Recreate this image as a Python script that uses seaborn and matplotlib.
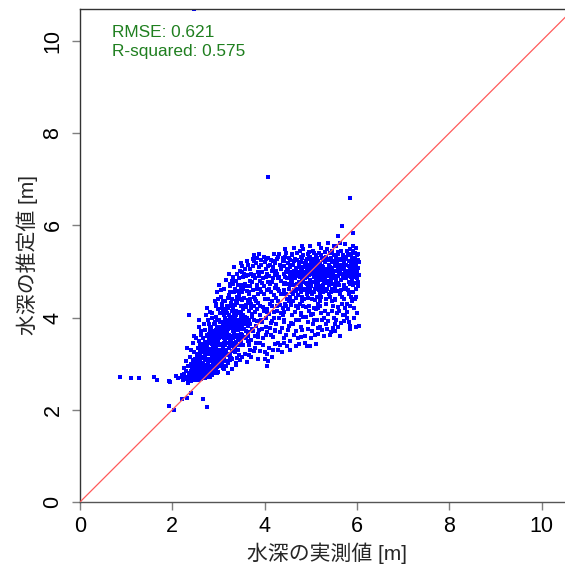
import matplotlib
matplotlib.use("Agg")
import matplotlib.pyplot as plt
import seaborn as sns
import pandas as pd

# ---- data (actual depth [m], estimated depth [m]) ----
tail_and_outliers = [(0.87,2.70),(1.10,2.69),(1.28,2.69),(1.60,2.71),(1.66,2.65),(1.92,2.62),(1.96,2.60),(1.92,2.08),(2.03,2.00),(2.20,2.23),(2.32,2.26),(2.40,2.37),(2.67,2.24),(2.76,2.06),(4.07,7.04),(5.85,6.60),(5.67,5.99),(5.92,5.84),(5.60,5.77),(2.12,2.68),(2.07,2.74),(2.47,10.69)]
strip_a = [(2.20,2.70),(2.23,2.64),(2.26,2.78),(2.28,2.68),(2.30,2.85),(2.31,2.66),(2.33,2.72),(2.34,2.95),(2.36,2.62),(2.37,2.80),(2.25,2.90),(2.29,3.05),(2.35,2.58),(2.22,2.75),(2.32,3.35)]
strip_b = [(2.38,2.66),(2.39,2.74),(2.40,2.85),(2.41,2.62),(2.42,2.95),(2.43,2.70),(2.44,2.80),(2.45,3.02),(2.46,2.68),(2.47,2.88),(2.48,2.75),(2.49,3.10),(2.50,2.64),(2.51,2.92),(2.52,2.78),(2.53,3.22),(2.54,2.70),(2.55,2.98),(2.56,2.84),(2.39,3.15),(2.41,3.30),(2.43,2.90),(2.45,3.45),(2.47,2.72),(2.49,3.00),(2.51,3.55),(2.53,2.86),(2.55,3.35),(2.40,2.99),(2.44,3.08),(2.48,3.25),(2.52,3.05),(2.56,2.67),(2.42,2.82),(2.46,3.60),(2.50,2.96),(2.54,3.12),(2.37,4.05),(2.57,3.80),(2.55,2.76)]
strip_c = [(2.56,2.70),(2.57,2.88),(2.58,3.05),(2.59,2.75),(2.60,3.20),(2.61,2.66),(2.62,2.95),(2.63,3.12),(2.64,2.80),(2.65,3.35),(2.66,2.72),(2.67,3.02),(2.68,2.86),(2.69,3.25),(2.70,2.68),(2.71,3.48),(2.72,2.92),(2.73,3.10),(2.74,2.78),(2.75,3.60),(2.56,3.15),(2.58,2.82),(2.60,3.40),(2.62,2.72),(2.64,3.00),(2.66,3.55),(2.68,2.98),(2.70,3.18),(2.72,2.83),(2.74,3.30),(2.57,2.65),(2.59,3.28),(2.61,2.90),(2.63,3.70),(2.65,2.84),(2.67,3.42),(2.69,2.76),(2.71,3.08),(2.73,2.70),(2.75,3.22),(2.57,3.50),(2.61,3.08),(2.65,2.96),(2.69,3.85),(2.73,3.38),(2.59,2.99),(2.63,2.67),(2.67,3.15),(2.71,2.80),(2.75,2.90),(2.58,3.95),(2.62,3.62),(2.66,3.26),(2.70,3.72),(2.74,4.05)]
strip_d = [(2.75,2.75),(2.76,2.98),(2.77,3.20),(2.78,3.45),(2.79,2.85),(2.80,3.65),(2.81,3.05),(2.82,2.70),(2.83,3.32),(2.84,3.80),(2.85,2.92),(2.86,3.55),(2.87,3.12),(2.88,2.80),(2.89,3.70),(2.90,3.00),(2.91,3.40),(2.92,3.90),(2.93,3.15),(2.94,2.88),(2.75,3.38),(2.76,3.62),(2.77,2.82),(2.78,3.10),(2.79,3.52),(2.80,2.95),(2.81,3.78),(2.82,3.25),(2.83,2.88),(2.84,3.48),(2.85,3.18),(2.86,4.10),(2.87,2.76),(2.88,3.35),(2.89,3.02),(2.90,3.85),(2.91,2.94),(2.92,3.58),(2.93,3.28),(2.94,3.72),(2.76,4.20),(2.78,3.95),(2.80,3.30),(2.82,3.68),(2.84,3.05),(2.86,2.90),(2.88,3.62),(2.90,3.22),(2.92,3.08),(2.94,4.30),(2.77,3.00),(2.79,3.85),(2.81,2.78),(2.83,3.58),(2.85,4.00),(2.87,3.42),(2.89,2.85),(2.91,3.65),(2.93,4.36),(2.75,3.08),(2.82,4.12),(2.86,3.28),(2.90,3.50),(2.92,2.98),(2.94,3.40)]
strip_e = [(2.93,3.05),(2.94,3.35),(2.95,3.68),(2.96,2.92),(2.97,3.95),(2.98,3.20),(2.99,3.52),(3.00,2.82),(3.01,3.80),(3.02,3.12),(3.03,4.10),(3.04,3.42),(3.05,3.00),(3.06,3.72),(3.07,3.28),(3.08,4.30),(3.09,3.58),(3.10,2.90),(3.11,3.88),(3.12,3.18),(2.93,3.60),(2.94,4.02),(2.95,3.15),(2.96,3.48),(2.97,2.80),(2.98,3.75),(2.99,3.30),(3.00,4.18),(3.01,3.02),(3.02,3.62),(3.03,3.40),(3.04,3.90),(3.05,3.22),(3.06,4.45),(3.07,3.05),(3.08,3.65),(3.09,3.85),(3.10,3.38),(3.11,4.05),(3.12,3.55),(2.93,3.85),(2.95,4.25),(2.97,3.40),(2.99,3.10),(3.01,3.55),(3.03,2.95),(3.05,4.60),(3.07,3.78),(3.09,3.15),(3.11,3.45),(2.94,3.00),(2.96,3.78),(2.98,4.40),(3.00,3.58),(3.02,3.95),(3.04,3.15),(3.06,3.30),(3.08,2.98),(3.10,4.15),(3.12,3.70),(2.95,3.52),(2.98,3.10),(3.01,4.70),(3.04,3.68),(3.07,4.20),(3.10,3.62),(2.97,4.55),(3.03,3.78),(3.09,4.35),(3.12,2.88)]
strip_f = [(3.12,3.25),(3.13,3.65),(3.14,4.00),(3.15,3.40),(3.16,2.95),(3.17,3.85),(3.18,3.55),(3.19,4.25),(3.20,3.18),(3.21,3.75),(3.22,4.48),(3.23,3.35),(3.24,3.98),(3.25,3.08),(3.26,4.72),(3.27,3.60),(3.28,3.90),(3.29,3.28),(3.30,4.15),(3.31,3.70),(3.12,3.90),(3.13,3.12),(3.14,3.50),(3.15,4.35),(3.16,3.72),(3.17,3.28),(3.18,4.10),(3.19,3.45),(3.20,3.88),(3.21,3.02),(3.22,3.62),(3.23,4.05),(3.24,3.42),(3.25,3.82),(3.26,3.20),(3.27,4.32),(3.28,3.50),(3.29,3.78),(3.30,2.88),(3.31,4.55),(3.12,4.62),(3.14,3.78),(3.16,4.18),(3.18,3.22),(3.20,4.42),(3.22,3.80),(3.24,3.15),(3.26,3.95),(3.28,4.25),(3.30,3.58),(3.13,4.05),(3.15,3.58),(3.17,4.82),(3.19,3.70),(3.21,4.20),(3.23,3.55),(3.25,4.55),(3.27,3.88),(3.29,4.02),(3.31,3.38),(3.14,3.30),(3.18,3.95),(3.22,4.95),(3.26,3.52),(3.30,4.80),(3.16,3.05),(3.20,3.62),(3.24,4.68),(3.28,3.12),(3.21,2.80)]
strip_g = [(3.30,3.85),(3.31,3.45),(3.32,4.20),(3.33,3.68),(3.34,4.55),(3.35,3.25),(3.36,3.95),(3.37,4.35),(3.38,3.58),(3.39,4.80),(3.40,3.80),(3.41,3.12),(3.42,4.10),(3.43,3.72),(3.44,4.48),(3.45,3.40),(3.46,3.92),(3.47,5.02),(3.48,3.65),(3.49,4.25),(3.30,4.40),(3.31,3.92),(3.32,3.55),(3.33,4.05),(3.34,3.82),(3.35,4.62),(3.36,3.38),(3.37,3.78),(3.38,4.15),(3.39,3.48),(3.40,4.32),(3.41,3.88),(3.42,3.62),(3.43,4.70),(3.44,3.95),(3.45,3.18),(3.46,4.40),(3.47,3.75),(3.48,4.02),(3.49,3.50),(3.30,3.10),(3.32,4.88),(3.34,3.62),(3.36,4.28),(3.38,3.88),(3.40,4.95),(3.42,3.30),(3.44,4.12),(3.46,3.58),(3.48,4.65),(3.31,4.72),(3.33,3.35),(3.35,3.98),(3.37,2.98),(3.39,4.05),(3.41,4.45),(3.43,3.52),(3.45,4.85),(3.47,3.08),(3.49,3.85),(3.34,5.10),(3.38,3.02),(3.42,4.58),(3.46,3.82),(3.48,5.18)]
strip_h = [(3.49,4.10),(3.50,3.62),(3.51,4.55),(3.52,3.88),(3.53,4.88),(3.54,3.40),(3.55,4.25),(3.56,3.75),(3.57,5.05),(3.58,4.02),(3.59,3.55),(3.60,4.68),(3.61,3.90),(3.62,3.04),(3.63,4.38),(3.64,3.68),(3.65,5.15),(3.66,4.15),(3.67,3.42),(3.68,4.80),(3.49,3.48),(3.50,4.38),(3.51,3.80),(3.52,4.98),(3.53,4.05),(3.54,4.62),(3.55,3.58),(3.56,4.42),(3.57,3.22),(3.58,4.72),(3.59,4.22),(3.60,3.70),(3.61,5.22),(3.62,4.00),(3.63,3.82),(3.64,4.92),(3.65,3.60),(3.66,4.50),(3.67,3.95),(3.68,3.30),(3.50,5.12),(3.52,3.15),(3.54,4.18),(3.56,4.95),(3.58,3.85),(3.60,4.28),(3.62,4.58),(3.64,4.32),(3.66,3.18),(3.68,4.40),(3.51,4.70),(3.55,3.95),(3.59,4.90),(3.63,3.50),(3.67,4.68)]
strip_i = [(3.67,4.55),(3.68,3.85),(3.69,5.05),(3.70,4.20),(3.71,3.52),(3.72,4.78),(3.73,4.02),(3.74,5.28),(3.75,3.70),(3.76,4.45),(3.77,3.28),(3.78,4.92),(3.79,4.12),(3.80,3.60),(3.81,5.18),(3.82,4.35),(3.83,3.92),(3.84,4.70),(3.85,3.10),(3.86,4.98),(3.67,3.40),(3.69,4.38),(3.71,4.95),(3.73,3.75),(3.75,5.12),(3.77,4.25),(3.79,4.85),(3.81,3.82),(3.83,5.30),(3.85,4.52),(3.68,4.68),(3.70,3.15),(3.72,4.08),(3.74,4.60),(3.76,3.95),(3.78,5.22),(3.80,4.40),(3.82,3.45),(3.84,4.18),(3.86,3.65),(3.71,4.30),(3.75,4.90),(3.79,3.35),(3.83,4.62),(3.77,5.35)]
strip_j = [(3.86,4.32),(3.87,5.10),(3.88,3.72),(3.89,4.80),(3.90,4.05),(3.91,3.28),(3.92,5.25),(3.93,4.55),(3.94,3.90),(3.95,4.98),(3.96,4.22),(3.97,3.55),(3.98,5.32),(3.99,4.68),(4.00,3.10),(4.01,4.40),(4.02,5.05),(4.03,3.80),(4.04,4.88),(4.05,4.12),(3.86,3.58),(3.88,5.38),(3.90,4.62),(3.92,3.95),(3.94,4.75),(3.96,3.40),(3.98,4.50),(4.00,5.20),(4.02,4.00),(4.04,3.62),(3.87,4.90),(3.89,3.45),(3.91,4.25),(3.93,5.15),(3.95,3.75),(3.97,4.85),(3.99,4.15),(4.01,3.25),(4.03,5.28),(4.05,4.60),(4.06,2.95)]
strip_k = [(4.05,4.95),(4.06,3.68),(4.07,4.40),(4.08,5.30),(4.09,4.08),(4.10,3.35),(4.11,4.72),(4.12,5.15),(4.13,3.88),(4.14,4.55),(4.15,3.15),(4.16,5.02),(4.17,4.25),(4.18,3.58),(4.19,4.85),(4.20,5.38),(4.21,4.00),(4.22,3.42),(4.23,4.65),(4.05,3.20),(4.07,5.12),(4.09,4.62),(4.11,3.78),(4.13,5.25),(4.15,4.35),(4.17,3.92),(4.19,5.10),(4.21,4.48),(4.23,3.70),(4.06,4.18),(4.08,3.05),(4.10,4.90),(4.12,4.30),(4.14,3.62),(4.16,4.78),(4.18,5.22),(4.20,4.12),(4.22,4.92),(4.08,4.78),(4.19,3.30)]
strip_l = [(4.23,5.18),(4.24,4.42),(4.25,3.85),(4.26,4.95),(4.27,4.15),(4.28,3.45),(4.29,5.32),(4.30,4.62),(4.31,3.98),(4.32,5.37),(4.33,4.28),(4.34,3.68),(4.35,5.05),(4.36,4.80),(4.37,3.25),(4.38,4.52),(4.39,5.22),(4.40,4.05),(4.41,4.72),(4.42,3.55),(4.23,3.72),(4.25,4.70),(4.27,5.28),(4.29,4.35),(4.31,4.88),(4.33,3.40),(4.35,4.50),(4.37,5.12),(4.39,4.20),(4.41,3.90),(4.24,5.00),(4.26,4.25),(4.28,4.85),(4.30,3.30),(4.32,4.58),(4.34,5.15),(4.36,4.10),(4.38,3.78),(4.40,5.30),(4.42,4.95)]
strip_m = [(4.41,4.60),(4.42,5.22),(4.43,3.95),(4.44,4.88),(4.45,4.30),(4.46,5.40),(4.47,3.62),(4.48,3.38),(4.49,5.05),(4.50,4.72),(4.51,4.18),(4.52,5.30),(4.53,3.82),(4.54,4.95),(4.55,4.45),(4.56,3.50),(4.57,5.15),(4.58,4.82),(4.59,4.05),(4.60,5.35),(4.41,3.45),(4.43,5.12),(4.45,4.75),(4.47,4.98),(4.49,4.40),(4.51,5.18),(4.53,4.62),(4.55,3.30),(4.57,4.90),(4.59,4.55),(4.42,4.12),(4.44,5.32),(4.46,4.52),(4.48,4.85),(4.50,3.72),(4.52,4.35),(4.54,5.10),(4.56,4.70),(4.58,3.88),(4.60,4.98),(4.45,5.48),(4.50,5.00),(4.55,5.25),(4.47,4.25),(4.58,4.28)]
strip_n = [(4.60,4.80),(4.61,5.15),(4.62,4.35),(4.63,5.02),(4.64,3.62),(4.65,4.92),(4.66,5.28),(4.67,4.58),(4.68,3.95),(4.69,5.08),(4.70,4.72),(4.71,5.40),(4.72,4.20),(4.73,4.95),(4.74,3.42),(4.75,5.18),(4.76,4.65),(4.77,4.88),(4.78,5.32),(4.79,4.05),(4.60,5.38),(4.61,4.50),(4.62,3.85),(4.63,4.70),(4.64,5.22),(4.65,4.12),(4.66,4.85),(4.67,5.05),(4.68,4.42),(4.69,3.70),(4.70,5.25),(4.71,4.62),(4.72,4.98),(4.73,3.55),(4.74,5.12),(4.75,4.78),(4.76,4.30),(4.77,5.45),(4.78,4.55),(4.79,5.00),(4.61,4.95),(4.64,4.60),(4.67,3.38),(4.70,4.90),(4.73,4.48),(4.76,5.10),(4.79,3.80),(4.63,5.50),(4.69,4.25),(4.75,3.95)]
strip_o = [(4.78,4.92),(4.79,5.20),(4.80,4.45),(4.81,5.05),(4.82,3.72),(4.83,4.82),(4.84,5.35),(4.85,4.60),(4.86,4.98),(4.87,3.45),(4.88,5.12),(4.89,4.75),(4.90,4.22),(4.91,5.28),(4.92,4.88),(4.93,3.90),(4.94,5.02),(4.95,4.55),(4.96,5.42),(4.97,4.70),(4.78,4.10),(4.79,4.68),(4.80,5.30),(4.81,4.35),(4.82,4.95),(4.83,5.48),(4.84,4.02),(4.85,5.10),(4.86,4.40),(4.87,4.85),(4.88,3.60),(4.89,5.22),(4.90,4.95),(4.91,4.50),(4.92,3.38),(4.93,5.15),(4.94,4.65),(4.95,5.00),(4.96,4.15),(4.97,5.30),(4.79,3.58),(4.81,4.80),(4.83,4.25),(4.85,4.90),(4.87,5.18),(4.89,4.02),(4.91,4.72),(4.93,4.42),(4.95,3.75),(4.97,4.92),(4.82,5.55),(4.88,4.62),(4.94,5.38),(4.80,4.78),(4.92,5.05)]
strip_p = [(4.97,5.08),(4.98,4.60),(4.99,3.38),(5.00,4.95),(5.01,5.25),(5.02,4.40),(5.03,5.02),(5.04,3.85),(5.05,4.78),(5.06,5.40),(5.07,4.55),(5.08,4.92),(5.09,3.62),(5.10,5.15),(5.11,4.70),(5.12,4.18),(5.13,5.30),(5.14,4.85),(5.15,5.00),(5.16,4.30),(4.97,4.25),(4.98,5.32),(4.99,4.82),(5.00,3.55),(5.01,4.68),(5.02,5.12),(5.03,4.50),(5.04,5.45),(5.05,4.08),(5.06,4.88),(5.07,5.20),(5.08,3.95),(5.09,4.62),(5.10,4.98),(5.11,3.42),(5.12,5.35),(5.13,4.45),(5.14,5.08),(5.15,3.78),(5.16,4.95),(4.98,4.72),(5.00,5.18),(5.02,3.70),(5.04,4.98),(5.06,4.20),(5.08,5.28),(5.10,4.38),(5.12,4.80),(5.14,3.95),(5.16,5.15),(4.99,5.55),(5.05,5.05),(5.11,4.90),(5.01,4.05),(5.13,4.65)]
strip_q = [(5.15,4.90),(5.16,5.22),(5.17,5.59),(5.18,4.60),(5.19,5.05),(5.20,3.80),(5.21,4.82),(5.22,5.35),(5.23,4.45),(5.24,5.12),(5.25,3.95),(5.26,4.98),(5.27,4.70),(5.28,5.28),(5.29,3.60),(5.30,4.88),(5.31,5.42),(5.32,4.30),(5.33,5.02),(5.34,4.75),(5.15,4.20),(5.16,4.78),(5.17,5.00),(5.18,5.40),(5.19,4.35),(5.20,4.95),(5.21,5.18),(5.22,4.10),(5.23,4.85),(5.24,3.72),(5.25,5.30),(5.26,4.55),(5.27,5.10),(5.28,4.00),(5.29,4.92),(5.30,5.20),(5.31,4.62),(5.32,5.05),(5.33,3.85),(5.34,5.32),(5.16,3.65),(5.18,5.12),(5.20,4.52),(5.22,4.98),(5.24,4.65),(5.26,5.25),(5.28,4.80),(5.30,4.15),(5.32,4.95),(5.34,4.40),(5.17,4.68),(5.23,5.50),(5.29,5.05),(5.21,4.25),(5.33,4.58)]
strip_r = [(5.34,5.05),(5.35,4.62),(5.36,5.28),(5.37,4.90),(5.38,3.92),(5.39,5.15),(5.40,4.78),(5.41,5.40),(5.42,4.45),(5.43,4.98),(5.44,3.68),(5.45,5.22),(5.46,4.85),(5.47,5.08),(5.48,4.25),(5.49,4.95),(5.50,5.35),(5.51,4.58),(5.52,3.85),(5.53,5.12),(5.34,4.30),(5.35,5.48),(5.36,4.80),(5.37,4.08),(5.38,5.00),(5.39,4.70),(5.40,5.25),(5.41,3.62),(5.42,4.92),(5.43,5.30),(5.44,4.55),(5.45,4.88),(5.46,4.15),(5.47,5.45),(5.48,4.72),(5.49,5.20),(5.50,3.98),(5.51,5.02),(5.52,4.68),(5.53,4.40),(5.35,3.75),(5.39,4.50),(5.43,4.82),(5.47,4.62),(5.51,5.55),(5.37,5.62),(5.41,5.10),(5.45,4.35),(5.49,3.78),(5.53,4.90)]
strip_s = [(5.52,5.02),(5.53,4.65),(5.54,5.30),(5.55,4.88),(5.56,4.10),(5.57,5.18),(5.58,4.75),(5.59,5.42),(5.60,3.80),(5.61,4.95),(5.62,5.10),(5.63,4.50),(5.64,3.59),(5.65,5.25),(5.66,4.82),(5.67,5.05),(5.68,4.30),(5.69,4.92),(5.70,5.35),(5.71,4.62),(5.52,4.38),(5.53,5.22),(5.54,4.80),(5.55,3.95),(5.56,5.00),(5.57,4.58),(5.58,5.38),(5.59,4.90),(5.60,4.22),(5.61,5.28),(5.62,4.70),(5.63,5.15),(5.64,4.98),(5.65,3.88),(5.66,5.45),(5.67,4.45),(5.68,5.12),(5.69,4.05),(5.70,4.85),(5.71,5.20),(5.53,3.70),(5.56,4.72),(5.59,5.08),(5.62,4.15),(5.65,4.60),(5.68,4.95),(5.71,3.92),(5.55,5.55),(5.63,5.62),(5.69,5.32)]
strip_t = [(5.71,5.08),(5.72,4.70),(5.73,5.32),(5.74,4.92),(5.75,4.20),(5.76,5.15),(5.77,4.85),(5.78,5.45),(5.79,3.98),(5.80,5.00),(5.81,4.60),(5.82,5.22),(5.83,4.78),(5.84,3.75),(5.85,5.10),(5.86,4.95),(5.87,5.38),(5.88,4.45),(5.89,5.05),(5.90,4.82),(5.71,4.40),(5.72,5.25),(5.73,4.88),(5.74,4.05),(5.75,5.02),(5.76,4.65),(5.77,5.28),(5.78,4.98),(5.79,4.30),(5.80,5.35),(5.81,4.90),(5.82,3.90),(5.83,5.12),(5.84,4.72),(5.85,5.48),(5.86,4.25),(5.87,4.88),(5.88,5.18),(5.89,4.55),(5.90,5.30),(5.74,5.60),(5.78,4.12),(5.82,4.50),(5.86,3.82),(5.90,4.98)]
strip_u = [(5.89,5.05),(5.90,4.80),(5.91,5.28),(5.92,4.55),(5.93,5.12),(5.94,4.95),(5.95,5.40),(5.96,4.40),(5.97,5.00),(5.98,3.80),(5.99,5.22),(6.00,4.85),(6.01,5.35),(6.02,4.68),(6.03,5.08),(6.04,4.92),(5.89,4.35),(5.90,5.18),(5.91,4.70),(5.92,5.45),(5.93,4.88),(5.94,4.20),(5.95,5.02),(5.96,5.30),(5.97,4.62),(5.98,5.15),(5.99,4.45),(6.00,5.00),(6.01,4.10),(6.02,5.25),(6.03,4.78),(6.04,3.82),(5.91,5.55),(5.95,4.75),(5.99,5.50),(6.03,5.38),(5.93,4.00),(5.97,5.10),(6.01,4.95),(6.04,5.20)]

x_ticks = [0, 2, 4, 6, 8, 10]
y_ticks = [0, 2, 4, 6, 8, 10]
x_label = "水深の実測値 [m]"
y_label = "水深の推定値 [m]"
stats_text = ["RMSE: 0.621", "R-squared: 0.575"]
axis_limit = 10.7

all_points = (tail_and_outliers + strip_a + strip_b + strip_c + strip_d + strip_e + strip_f
              + strip_g + strip_h + strip_i + strip_j + strip_k + strip_l + strip_m + strip_n
              + strip_o + strip_p + strip_q + strip_r + strip_s + strip_t + strip_u)
df = pd.DataFrame(all_points, columns=["actual", "estimated"])

sns.set_style("white")
plt.rcParams["font.family"] = ["Liberation Sans", "Noto Sans CJK JP", "DejaVu Sans"]

fig = plt.figure(figsize=(5.65, 5.65), dpi=100)
ax = fig.add_axes([80 / 565, 63 / 565, 493.9 / 565, 493.4 / 565])

sns.scatterplot(data=df, x="actual", y="estimated", ax=ax, color="blue",
                marker="s", s=6.5, linewidth=0, legend=False, zorder=2)
ax.axline((0, 0), slope=1, color="#ff5a5a", lw=0.9, zorder=3)

ax.set_xlim(0, axis_limit)
ax.set_ylim(0, axis_limit)
ax.set_xticks(x_ticks)
ax.set_yticks(y_ticks)

for side in ["left", "top", "right"]:
    ax.spines[side].set_color("#333333")
    ax.spines[side].set_linewidth(1.0)
ax.spines["bottom"].set_color("#555555")
ax.spines["bottom"].set_linewidth(1.0)

ax.tick_params(axis="both", which="both", direction="out", length=5.8, width=1,
               color="#7f7f7f", labelsize=15.5, labelcolor="black")
ax.tick_params(axis="x", pad=4, bottom=True)
ax.tick_params(axis="y", pad=6, left=True)
for lab in ax.get_yticklabels():
    lab.set_rotation(90)
    lab.set_va("center")

ax.set_xlabel(x_label, fontsize=15, labelpad=4)
ax.set_ylabel(y_label, fontsize=15, labelpad=3)

ax.text(0.69, 10.08, stats_text[0], color="#1f7f1f", fontsize=12.4, va="baseline", ha="left")
ax.text(0.69, 9.67, stats_text[1], color="#1f7f1f", fontsize=12.4, va="baseline", ha="left")

fig.savefig("out.png", dpi=100)
